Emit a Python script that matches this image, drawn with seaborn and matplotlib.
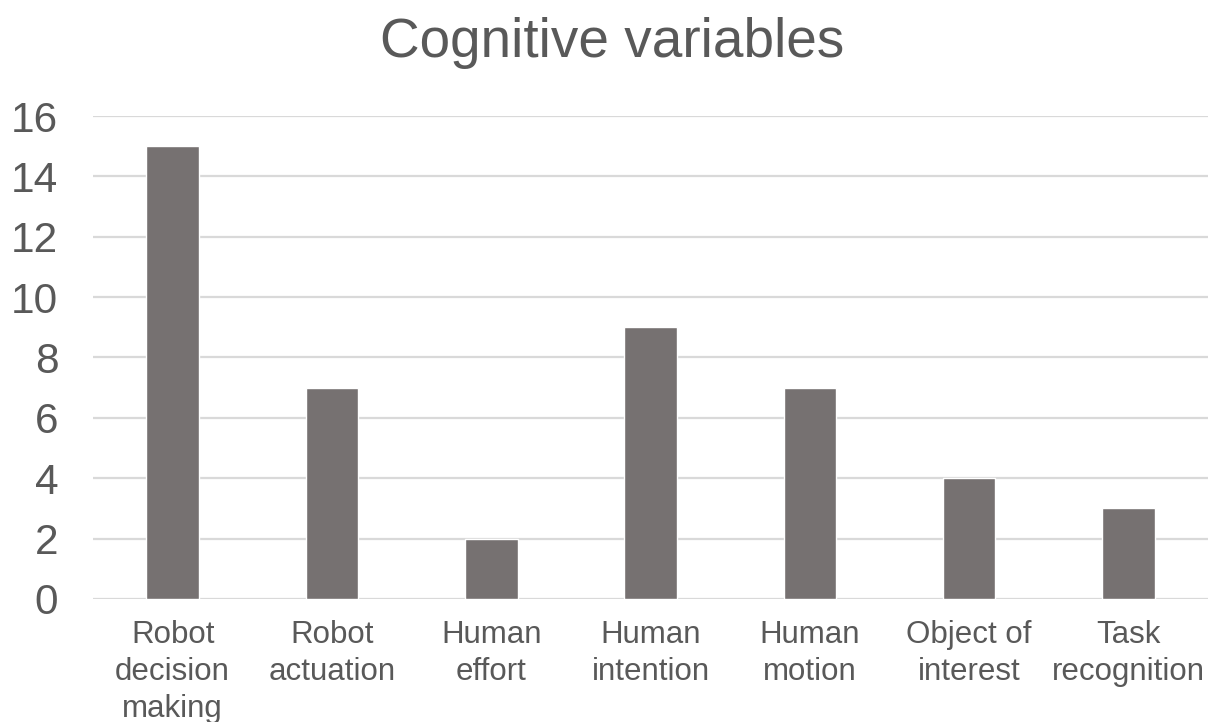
import matplotlib
matplotlib.use("Agg")
import matplotlib.pyplot as plt
import seaborn as sns
import pandas as pd

categories = ["Robot\ndecision\nmaking", "Robot\nactuation", "Human\neffort",
              "Human\nintention", "Human\nmotion", "Object of\ninterest", "Task\nrecognition"]
counts = [15, 7, 2, 9, 7, 4, 3]
y_ticks = [0, 2, 4, 6, 8, 10, 12, 14, 16]

df = pd.DataFrame({"Variable": categories, "Count": counts})

sns.set_style("white")
plt.rcParams["font.family"] = ["Liberation Sans", "DejaVu Sans"]
text_color = "#595959"

fig = plt.figure(figsize=(12.08, 7.22), dpi=100)
ax = fig.add_axes([0.077, 0.1704, 0.923, 0.6689])

sns.barplot(data=df, x="Variable", y="Count", color="#767171", width=0.33,
            saturation=1, ax=ax, zorder=3)

ax.set_ylim(0, 16)
ax.set_yticks(y_ticks)
ax.set_xlim(-0.5, len(categories) - 0.5)
ax.grid(axis="y", color="#d9d9d9", linewidth=1.6, zorder=0)
ax.set_axisbelow(True)
for s in ax.spines.values():
    s.set_visible(False)

ax.tick_params(axis="y", labelsize=30.5, colors=text_color, length=0, pad=25)
ax.tick_params(axis="x", labelsize=22.5, colors=text_color, length=0, pad=15)
for lbl in ax.get_xticklabels():
    lbl.set_linespacing(1.3)
ax.set_xlabel("")
ax.set_ylabel("")

fig.text(0.507, 0.94, "Cognitive variables", ha="center", va="center",
         fontsize=39.5, color=text_color)

fig.savefig("out.png", dpi=100)
